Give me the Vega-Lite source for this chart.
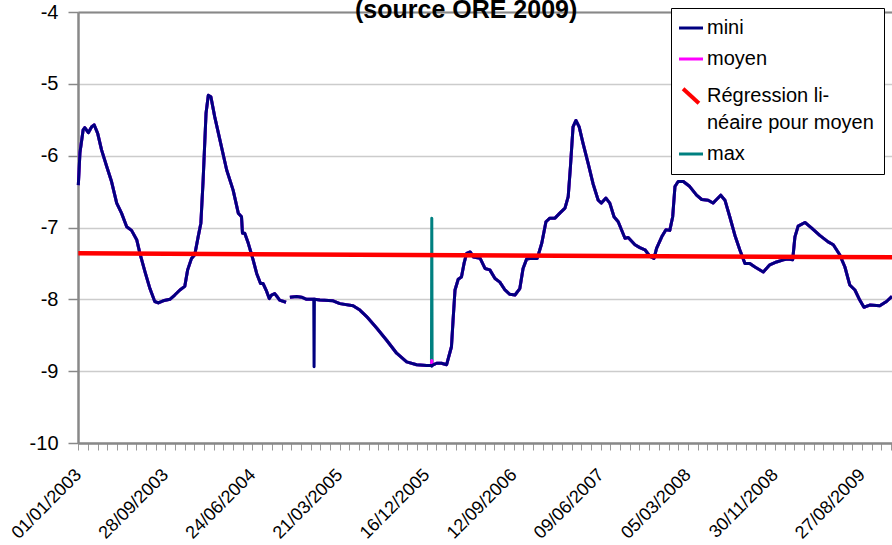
{
  "$schema": "https://vega.github.io/schema/vega-lite/v6.json",
  "autosize": {"type": "none"},
  "width": 814,
  "height": 431,
  "padding": {"left": 78, "top": 12, "right": 0, "bottom": 102},
  "background": "white",
  "title": {"text": "(source ORE 2009)", "anchor": "start", "frame": "group", "dx": 277, "dy": 36, "offset": -5, "baseline": "alphabetic", "fontSize": 25, "font": "Liberation Sans", "fontWeight": "bold", "color": "black"},
  "config": {"view": {"stroke": null}},
  "resolve": {"axis": {"x": "independent"}},
  "layer": [
    {
      "data": {"values": [
        {"date":"2003-01-01","mini":-6.41,"moyen":-6.41,"max":-6.41},
        {"date":"2003-01-06","mini":-5.96,"moyen":-5.96,"max":-5.96},
        {"date":"2003-01-16","mini":-5.64,"moyen":-5.64,"max":-5.64},
        {"date":"2003-01-21","mini":-5.61,"moyen":-5.61,"max":-5.61},
        {"date":"2003-02-01","mini":-5.68,"moyen":-5.68,"max":-5.68},
        {"date":"2003-02-11","mini":-5.60,"moyen":-5.60,"max":-5.60},
        {"date":"2003-02-19","mini":-5.57,"moyen":-5.57,"max":-5.57},
        {"date":"2003-03-02","mini":-5.69,"moyen":-5.69,"max":-5.69},
        {"date":"2003-03-14","mini":-5.92,"moyen":-5.92,"max":-5.92},
        {"date":"2003-03-30","mini":-6.15,"moyen":-6.15,"max":-6.15},
        {"date":"2003-04-14","mini":-6.36,"moyen":-6.36,"max":-6.36},
        {"date":"2003-04-30","mini":-6.66,"moyen":-6.66,"max":-6.66},
        {"date":"2003-05-15","mini":-6.80,"moyen":-6.80,"max":-6.80},
        {"date":"2003-05-31","mini":-6.99,"moyen":-6.99,"max":-6.99},
        {"date":"2003-06-15","mini":-7.04,"moyen":-7.04,"max":-7.04},
        {"date":"2003-07-01","mini":-7.17,"moyen":-7.17,"max":-7.17},
        {"date":"2003-07-11","mini":-7.36,"moyen":-7.36,"max":-7.36},
        {"date":"2003-07-27","mini":-7.62,"moyen":-7.62,"max":-7.62},
        {"date":"2003-08-11","mini":-7.85,"moyen":-7.85,"max":-7.85},
        {"date":"2003-08-26","mini":-8.03,"moyen":-8.03,"max":-8.03},
        {"date":"2003-09-06","mini":-8.05,"moyen":-8.05,"max":-8.05},
        {"date":"2003-09-21","mini":-8.02,"moyen":-8.02,"max":-8.02},
        {"date":"2003-10-12","mini":-8.00,"moyen":-8.00,"max":-8.00},
        {"date":"2003-10-27","mini":-7.94,"moyen":-7.94,"max":-7.94},
        {"date":"2003-11-12","mini":-7.87,"moyen":-7.87,"max":-7.87},
        {"date":"2003-11-27","mini":-7.82,"moyen":-7.82,"max":-7.82},
        {"date":"2003-12-06","mini":-7.59,"moyen":-7.59,"max":-7.59},
        {"date":"2003-12-18","mini":-7.43,"moyen":-7.43,"max":-7.43},
        {"date":"2003-12-28","mini":-7.38,"moyen":-7.38,"max":-7.38},
        {"date":"2004-01-08","mini":-7.12,"moyen":-7.12,"max":-7.12},
        {"date":"2004-01-16","mini":-6.94,"moyen":-6.94,"max":-6.94},
        {"date":"2004-01-23","mini":-6.34,"moyen":-6.34,"max":-6.34},
        {"date":"2004-02-01","mini":-5.41,"moyen":-5.41,"max":-5.41},
        {"date":"2004-02-08","mini":-5.16,"moyen":-5.16,"max":-5.16},
        {"date":"2004-02-16","mini":-5.18,"moyen":-5.18,"max":-5.18},
        {"date":"2004-02-28","mini":-5.46,"moyen":-5.46,"max":-5.46},
        {"date":"2004-03-15","mini":-5.78,"moyen":-5.78,"max":-5.78},
        {"date":"2004-04-05","mini":-6.20,"moyen":-6.20,"max":-6.20},
        {"date":"2004-04-25","mini":-6.48,"moyen":-6.48,"max":-6.48},
        {"date":"2004-05-11","mini":-6.80,"moyen":-6.80,"max":-6.80},
        {"date":"2004-05-21","mini":-6.85,"moyen":-6.85,"max":-6.85},
        {"date":"2004-05-24","mini":-7.08,"moyen":-7.08,"max":-7.08},
        {"date":"2004-05-31","mini":-7.08,"moyen":-7.08,"max":-7.08},
        {"date":"2004-06-11","mini":-7.22,"moyen":-7.22,"max":-7.22},
        {"date":"2004-06-26","mini":-7.45,"moyen":-7.45,"max":-7.45},
        {"date":"2004-07-07","mini":-7.64,"moyen":-7.64,"max":-7.64},
        {"date":"2004-07-19","mini":-7.78,"moyen":-7.78,"max":-7.78},
        {"date":"2004-07-27","mini":-7.78,"moyen":-7.78,"max":-7.78},
        {"date":"2004-08-07","mini":-7.89,"moyen":-7.89,"max":-7.89},
        {"date":"2004-08-15","mini":-7.99,"moyen":-7.99,"max":-7.99},
        {"date":"2004-08-22","mini":-7.94,"moyen":-7.94,"max":-7.94},
        {"date":"2004-09-01","mini":-7.92,"moyen":-7.92,"max":-7.92},
        {"date":"2004-09-08","mini":-7.96,"moyen":-7.96,"max":-7.96},
        {"date":"2004-09-16","mini":-8.01,"moyen":-8.01,"max":-8.01},
        {"date":"2004-10-06","mini":-8.04,"moyen":-8.04,"max":-8.04},
        {"date":"2004-10-12","mini":null,"moyen":null,"max":null},
        {"date":"2004-10-18","mini":-7.97,"moyen":-7.97,"max":-7.97},
        {"date":"2004-11-08","mini":-7.96,"moyen":-7.96,"max":-7.96},
        {"date":"2004-11-23","mini":-7.97,"moyen":-7.97,"max":-7.97},
        {"date":"2004-12-09","mini":-8.00,"moyen":-8.00,"max":-8.00},
        {"date":"2004-12-31","mini":-8.00,"moyen":-8.00,"max":-8.00},
        {"date":"2005-01-01","mini":-8.94,"moyen":-8.00,"max":-8.00},
        {"date":"2005-01-02","mini":-8.00,"moyen":-8.00,"max":-8.00},
        {"date":"2005-01-19","mini":-8.01,"moyen":-8.01,"max":-8.01},
        {"date":"2005-03-01","mini":-8.02,"moyen":-8.02,"max":-8.02},
        {"date":"2005-03-22","mini":-8.06,"moyen":-8.06,"max":-8.06},
        {"date":"2005-05-02","mini":-8.09,"moyen":-8.09,"max":-8.09},
        {"date":"2005-05-23","mini":-8.15,"moyen":-8.15,"max":-8.15},
        {"date":"2005-06-13","mini":-8.24,"moyen":-8.24,"max":-8.24},
        {"date":"2005-07-14","mini":-8.40,"moyen":-8.40,"max":-8.40},
        {"date":"2005-08-14","mini":-8.57,"moyen":-8.57,"max":-8.57},
        {"date":"2005-09-14","mini":-8.75,"moyen":-8.75,"max":-8.75},
        {"date":"2005-10-15","mini":-8.87,"moyen":-8.87,"max":-8.87},
        {"date":"2005-11-15","mini":-8.91,"moyen":-8.91,"max":-8.91},
        {"date":"2005-12-16","mini":-8.92,"moyen":-8.92,"max":-8.92},
        {"date":"2005-12-31","mini":-8.92,"moyen":-8.92,"max":-8.92},
        {"date":"2006-01-01","mini":-8.93,"moyen":-8.85,"max":-6.87},
        {"date":"2006-01-02","mini":-8.92,"moyen":-8.92,"max":-8.92},
        {"date":"2006-01-16","mini":-8.89,"moyen":-8.89,"max":-8.89},
        {"date":"2006-01-31","mini":-8.89,"moyen":-8.89,"max":-8.89},
        {"date":"2006-02-16","mini":-8.91,"moyen":-8.91,"max":-8.91},
        {"date":"2006-03-03","mini":-8.66,"moyen":-8.66,"max":-8.66},
        {"date":"2006-03-08","mini":-8.29,"moyen":-8.29,"max":-8.29},
        {"date":"2006-03-14","mini":-7.87,"moyen":-7.87,"max":-7.87},
        {"date":"2006-03-24","mini":-7.72,"moyen":-7.72,"max":-7.72},
        {"date":"2006-04-03","mini":-7.69,"moyen":-7.69,"max":-7.69},
        {"date":"2006-04-11","mini":-7.50,"moyen":-7.50,"max":-7.50},
        {"date":"2006-04-19","mini":-7.36,"moyen":-7.36,"max":-7.36},
        {"date":"2006-04-30","mini":-7.34,"moyen":-7.34,"max":-7.34},
        {"date":"2006-05-10","mini":-7.41,"moyen":-7.41,"max":-7.41},
        {"date":"2006-05-31","mini":-7.43,"moyen":-7.43,"max":-7.43},
        {"date":"2006-06-15","mini":-7.57,"moyen":-7.57,"max":-7.57},
        {"date":"2006-06-30","mini":-7.59,"moyen":-7.59,"max":-7.59},
        {"date":"2006-07-16","mini":-7.71,"moyen":-7.71,"max":-7.71},
        {"date":"2006-07-31","mini":-7.76,"moyen":-7.76,"max":-7.76},
        {"date":"2006-08-16","mini":-7.87,"moyen":-7.87,"max":-7.87},
        {"date":"2006-08-31","mini":-7.93,"moyen":-7.93,"max":-7.93},
        {"date":"2006-09-16","mini":-7.94,"moyen":-7.94,"max":-7.94},
        {"date":"2006-10-01","mini":-7.85,"moyen":-7.85,"max":-7.85},
        {"date":"2006-10-11","mini":-7.57,"moyen":-7.57,"max":-7.57},
        {"date":"2006-10-22","mini":-7.44,"moyen":-7.44,"max":-7.44},
        {"date":"2006-11-06","mini":-7.43,"moyen":-7.43,"max":-7.43},
        {"date":"2006-11-24","mini":-7.43,"moyen":-7.43,"max":-7.43},
        {"date":"2006-12-08","mini":-7.22,"moyen":-7.22,"max":-7.22},
        {"date":"2006-12-21","mini":-6.92,"moyen":-6.92,"max":-6.92},
        {"date":"2007-01-02","mini":-6.87,"moyen":-6.87,"max":-6.87},
        {"date":"2007-01-18","mini":-6.87,"moyen":-6.87,"max":-6.87},
        {"date":"2007-02-02","mini":-6.80,"moyen":-6.80,"max":-6.80},
        {"date":"2007-02-18","mini":-6.73,"moyen":-6.73,"max":-6.73},
        {"date":"2007-02-28","mini":-6.57,"moyen":-6.57,"max":-6.57},
        {"date":"2007-03-07","mini":-6.15,"moyen":-6.15,"max":-6.15},
        {"date":"2007-03-15","mini":-5.60,"moyen":-5.60,"max":-5.60},
        {"date":"2007-03-24","mini":-5.51,"moyen":-5.51,"max":-5.51},
        {"date":"2007-04-03","mini":-5.60,"moyen":-5.60,"max":-5.60},
        {"date":"2007-04-15","mini":-5.83,"moyen":-5.83,"max":-5.83},
        {"date":"2007-05-01","mini":-6.11,"moyen":-6.11,"max":-6.11},
        {"date":"2007-05-16","mini":-6.39,"moyen":-6.39,"max":-6.39},
        {"date":"2007-06-01","mini":-6.62,"moyen":-6.62,"max":-6.62},
        {"date":"2007-06-11","mini":-6.66,"moyen":-6.66,"max":-6.66},
        {"date":"2007-06-25","mini":-6.59,"moyen":-6.59,"max":-6.59},
        {"date":"2007-07-07","mini":-6.66,"moyen":-6.66,"max":-6.66},
        {"date":"2007-07-20","mini":-6.85,"moyen":-6.85,"max":-6.85},
        {"date":"2007-08-02","mini":-6.92,"moyen":-6.92,"max":-6.92},
        {"date":"2007-08-23","mini":-7.15,"moyen":-7.15,"max":-7.15},
        {"date":"2007-09-02","mini":-7.14,"moyen":-7.14,"max":-7.14},
        {"date":"2007-09-23","mini":-7.24,"moyen":-7.24,"max":-7.24},
        {"date":"2007-10-08","mini":-7.28,"moyen":-7.28,"max":-7.28},
        {"date":"2007-10-24","mini":-7.31,"moyen":-7.31,"max":-7.31},
        {"date":"2007-11-08","mini":-7.40,"moyen":-7.40,"max":-7.40},
        {"date":"2007-11-21","mini":-7.43,"moyen":-7.43,"max":-7.43},
        {"date":"2007-11-29","mini":-7.29,"moyen":-7.29,"max":-7.29},
        {"date":"2007-12-15","mini":-7.13,"moyen":-7.13,"max":-7.13},
        {"date":"2007-12-28","mini":-7.03,"moyen":-7.03,"max":-7.03},
        {"date":"2008-01-09","mini":-7.04,"moyen":-7.04,"max":-7.04},
        {"date":"2008-01-18","mini":-6.85,"moyen":-6.85,"max":-6.85},
        {"date":"2008-01-25","mini":-6.43,"moyen":-6.43,"max":-6.43},
        {"date":"2008-02-04","mini":-6.36,"moyen":-6.36,"max":-6.36},
        {"date":"2008-02-20","mini":-6.36,"moyen":-6.36,"max":-6.36},
        {"date":"2008-03-11","mini":-6.43,"moyen":-6.43,"max":-6.43},
        {"date":"2008-04-01","mini":-6.55,"moyen":-6.55,"max":-6.55},
        {"date":"2008-04-17","mini":-6.61,"moyen":-6.61,"max":-6.61},
        {"date":"2008-05-07","mini":-6.62,"moyen":-6.62,"max":-6.62},
        {"date":"2008-05-22","mini":-6.66,"moyen":-6.66,"max":-6.66},
        {"date":"2008-06-02","mini":-6.61,"moyen":-6.61,"max":-6.61},
        {"date":"2008-06-15","mini":-6.55,"moyen":-6.55,"max":-6.55},
        {"date":"2008-06-28","mini":-6.62,"moyen":-6.62,"max":-6.62},
        {"date":"2008-07-13","mini":-6.85,"moyen":-6.85,"max":-6.85},
        {"date":"2008-07-29","mini":-7.11,"moyen":-7.11,"max":-7.11},
        {"date":"2008-08-13","mini":-7.31,"moyen":-7.31,"max":-7.31},
        {"date":"2008-08-29","mini":-7.50,"moyen":-7.50,"max":-7.50},
        {"date":"2008-09-13","mini":-7.50,"moyen":-7.50,"max":-7.50},
        {"date":"2008-09-29","mini":-7.55,"moyen":-7.55,"max":-7.55},
        {"date":"2008-10-25","mini":-7.62,"moyen":-7.62,"max":-7.62},
        {"date":"2008-11-14","mini":-7.52,"moyen":-7.52,"max":-7.52},
        {"date":"2008-12-05","mini":-7.48,"moyen":-7.48,"max":-7.48},
        {"date":"2008-12-26","mini":-7.45,"moyen":-7.45,"max":-7.45},
        {"date":"2009-01-10","mini":-7.44,"moyen":-7.44,"max":-7.44},
        {"date":"2009-01-24","mini":-7.45,"moyen":-7.45,"max":-7.45},
        {"date":"2009-01-31","mini":-7.13,"moyen":-7.13,"max":-7.13},
        {"date":"2009-02-10","mini":-6.98,"moyen":-6.98,"max":-6.98},
        {"date":"2009-03-03","mini":-6.93,"moyen":-6.93,"max":-6.93},
        {"date":"2009-03-24","mini":-7.01,"moyen":-7.01,"max":-7.01},
        {"date":"2009-04-18","mini":-7.11,"moyen":-7.11,"max":-7.11},
        {"date":"2009-05-14","mini":-7.20,"moyen":-7.20,"max":-7.20},
        {"date":"2009-05-30","mini":-7.24,"moyen":-7.24,"max":-7.24},
        {"date":"2009-06-19","mini":-7.38,"moyen":-7.38,"max":-7.38},
        {"date":"2009-07-05","mini":-7.55,"moyen":-7.55,"max":-7.55},
        {"date":"2009-07-20","mini":-7.80,"moyen":-7.80,"max":-7.80},
        {"date":"2009-08-05","mini":-7.87,"moyen":-7.87,"max":-7.87},
        {"date":"2009-08-20","mini":-8.01,"moyen":-8.01,"max":-8.01},
        {"date":"2009-09-02","mini":-8.11,"moyen":-8.11,"max":-8.11},
        {"date":"2009-09-20","mini":-8.08,"moyen":-8.08,"max":-8.08},
        {"date":"2009-10-21","mini":-8.09,"moyen":-8.09,"max":-8.09},
        {"date":"2009-11-11","mini":-8.03,"moyen":-8.03,"max":-8.03},
        {"date":"2009-11-28","mini":-7.96,"moyen":-7.96,"max":-7.96}
      ]},
      "transform": [{"fold": ["max", "moyen", "mini"], "as": ["serie", "value"]}],
      "mark": {"type": "line", "strokeWidth": 3, "strokeJoin": "round", "invalid": "break-paths-show-domains"},
      "encoding": {
        "x": {
          "field": "date", "type": "temporal",
          "scale": {"type": "utc", "domain": [1041292800000, 1259366400000]},
          "axis": {
            "title": null, "grid": false, "tickCount": 200,
            "values": [1041379200000,1043971200000,1046563200000,1049155200000,1051747200000,1054339200000,1056931200000,1059523200000,1062115200000,1064707200000,1067299200000,1069891200000,1072483200000,1075075200000,1077667200000,1080259200000,1082851200000,1085443200000,1088035200000,1090627200000,1093219200000,1095811200000,1098403200000,1100995200000,1103587200000,1106179200000,1108771200000,1111363200000,1113955200000,1116547200000,1119139200000,1121731200000,1124323200000,1126915200000,1129507200000,1132099200000,1134691200000,1137283200000,1139875200000,1142467200000,1145059200000,1147651200000,1150243200000,1152835200000,1155427200000,1158019200000,1160611200000,1163203200000,1165795200000,1168387200000,1170979200000,1173571200000,1176163200000,1178755200000,1181347200000,1183939200000,1186531200000,1189123200000,1191715200000,1194307200000,1196899200000,1199491200000,1202083200000,1204675200000,1207267200000,1209859200000,1212451200000,1215043200000,1217635200000,1220227200000,1222819200000,1225411200000,1228003200000,1230595200000,1233187200000,1235779200000,1238371200000,1240963200000,1243555200000,1246147200000,1248739200000,1251331200000,1253923200000,1256515200000,1259107200000],
            "labelExpr": "((datum.value - 1041379200000) / 86400000) % 270 == 0 ? utcFormat(datum.value, '%d/%m/%Y') : ''",
            "labelAngle": -45, "labelAlign": "right", "labelBaseline": "middle",
            "labelFont": "Liberation Sans", "labelFontSize": 18, "labelColor": "black",
            "labelOverlap": false, "labelFlush": false, "labelBound": false, "labelPadding": 22,
            "tickSize": 7, "tickColor": "#999999", "tickWidth": 1,
            "domainColor": "#888888", "domainWidth": 2.5
          }
        },
        "y": {
          "field": "value", "type": "quantitative",
          "scale": {"domain": [-10, -4], "nice": false, "zero": false},
          "axis": {
            "title": null, "values": [-10, -9, -8, -7, -6, -5, -4], "tickCount": 20,
            "labelExpr": "datum.value + ''",
            "grid": true, "gridColor": "#cccccc", "gridWidth": 1.5,
            "domainColor": "#888888", "domainWidth": 2.5,
            "tickColor": "#888888", "tickSize": 10, "tickWidth": 1.5,
            "labelPadding": 10, "labelFont": "Liberation Sans", "labelFontSize": 20, "labelColor": "black"
          }
        },
        "color": {
          "field": "serie", "type": "nominal",
          "scale": {"domain": ["mini", "moyen", "Régression linéaire pour moyen", "max"], "range": ["#000080", "#FF00FF", "#FF0000", "#008080"]},
          "legend": {
            "title": null, "orient": "none", "legendX": 593, "legendY": -4,
            "labelFont": "Liberation Sans", "labelFontSize": 20, "labelColor": "black", "labelLimit": 400,
            "labelOffset": 6, "symbolType": "stroke", "symbolSize": 576, "symbolStrokeWidth": 3,
            "padding": 10, "rowPadding": 11, "strokeColor": "black", "fillColor": "white", "cornerRadius": 0,
            "labelExpr": "datum.label == 'Régression linéaire pour moyen' ? ['Régression li-', 'néaire pour moyen\u00a0\u00a0\u00a0'] : datum.label",
            "encode": {
              "labels": {"update": {"lineHeight": {"value": 27}}},
              "symbols": {"update": {
                "shape": {"signal": "datum.value == 'Régression linéaire pour moyen' ? 'M-0.66,-0.6L0.66,0.6' : 'stroke'"},
                "strokeWidth": {"signal": "datum.value == 'Régression linéaire pour moyen' ? 4 : 3"}
              }}
            }
          }
        }
      }
    },
    {
      "data": {"values": [
        {"date": "2003-01-01", "serie": "Régression linéaire pour moyen", "value": -7.36},
        {"date": "2009-11-28", "serie": "Régression linéaire pour moyen", "value": -7.415}
      ]},
      "mark": {"type": "line", "strokeWidth": 4.5},
      "encoding": {
        "x": {"field": "date", "type": "temporal", "axis": {"orient": "top", "labels": false, "ticks": false, "grid": false, "title": null, "domainColor": "#888888", "domainWidth": 2}},
        "y": {"field": "value", "type": "quantitative"},
        "color": {"field": "serie", "type": "nominal"}
      }
    }
  ]
}
